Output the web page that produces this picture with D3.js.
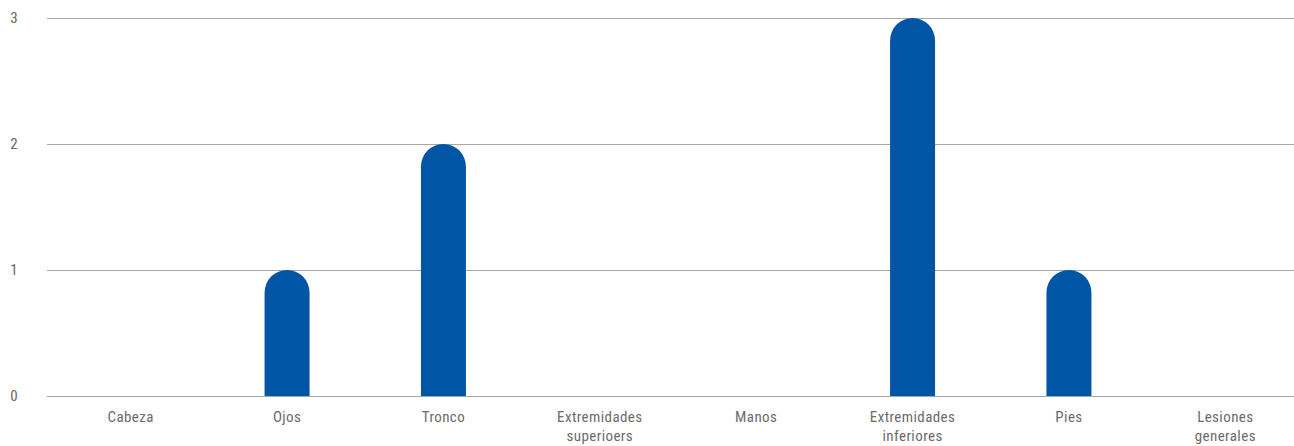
<!DOCTYPE html>
<html><head><meta charset="utf-8">
<script src="https://cdn.jsdelivr.net/npm/d3@7"></script>
<style>body{margin:0;background:#fff;}svg{display:block;}</style>
</head><body>
<svg id="c" width="1294" height="446"></svg>
<script>
const categories = [["Cabeza"],["Ojos"],["Tronco"],["Extremidades","superioers"],["Manos"],["Extremidades","inferiores"],["Pies"],["Lesiones","generales"]];
const values = [0,1,2,0,0,3,1,0];
const yTicks = [0,1,2,3];

const svg = d3.select("#c");
const font = "'Liberation Sans Narrow','Roboto Condensed','Roboto',sans-serif";
const x = d3.scaleBand().domain(d3.range(categories.length)).range([52.5,1303.5]).paddingInner(0).paddingOuter(0);
const y = d3.scaleLinear().domain([0,3]).range([396,18]);

svg.append("g").selectAll("line").data(yTicks).join("line")
  .attr("x1",47).attr("x2",1294)
  .attr("y1",d=>Math.round(y(d))+0.5).attr("y2",d=>Math.round(y(d))+0.5)
  .attr("stroke","#a6a6a6").attr("stroke-width",1);

svg.append("g").selectAll("text").data(yTicks).join("text")
  .attr("x",14).attr("y",d=>y(d)+5).attr("text-anchor","middle")
  .attr("font-family",font).attr("font-size",15).attr("fill","#666")
  .text(d=>d);

const bw = 45;
svg.append("g").selectAll("path").data(values.map((v,i)=>({v,i})).filter(d=>d.v>0)).join("path")
  .attr("fill","#0055a4")
  .attr("d",d=>{
    const cx = x(d.i)+x.bandwidth()/2, r = bw/2;
    const top = y(d.v), bot = y(0);
    return `M${cx-r},${bot}L${cx-r},${top+r}A${r},${r} 0 0 1 ${cx+r},${top+r}L${cx+r},${bot}Z`;
  });

const lab = svg.append("g").selectAll("text").data(categories).join("text")
  .attr("text-anchor","middle").attr("font-family",font).attr("font-size",15)
  .attr("letter-spacing",0.4).attr("fill","#6b6b6b")
  .attr("transform",(d,i)=>`translate(${x(i)+x.bandwidth()/2},422)`);
lab.selectAll("tspan").data(d=>d).join("tspan")
  .attr("x",0).attr("dy",(d,j)=>j===0?0:19).text(d=>d);
</script>
</body></html>
